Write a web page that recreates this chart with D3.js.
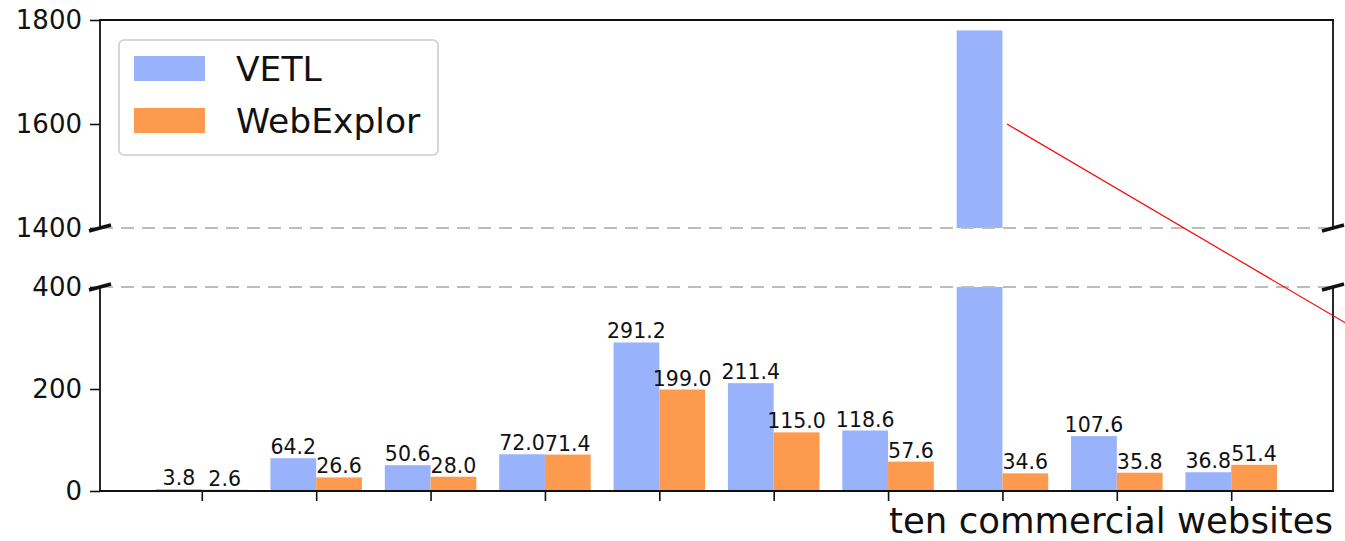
<!DOCTYPE html>
<html>
<head>
<meta charset="utf-8">
<script src="https://cdn.jsdelivr.net/npm/d3@7"></script>
<style>
  html, body { margin: 0; padding: 0; background: #fff; }
  svg { display: block; font-family: "DejaVu Sans", sans-serif; }
</style>
</head>
<body>
<svg id="chart" width="1345" height="541"></svg>
<script>
// Ten commercial websites, two tools compared
const categories = ["1", "2", "3", "4", "5", "6", "7", "8", "9", "10"];
const seriesNames = ["VETL", "WebExplor"];
const vetl      = [3.8, 64.2, 50.6, 72.0, 291.2, 211.4, 118.6, 1780, 107.6, 36.8];
const webExplor = [2.6, 26.6, 28.0, 71.4, 199.0, 115.0, 57.6, 34.6, 35.8, 51.4];
const topTicks = [1400, 1600, 1800];
const bottomTicks = [0, 200, 400];
const xLabel = "ten commercial websites";

const colors = ["#98b2fb", "#fd9a4d"];
const svg = d3.select("#chart");

const left = 100, right = 1333;
const barW = 0.4;
const x = d3.scaleLinear().domain([-0.89, categories.length - 1 + 0.89]).range([left, right]);
const yTop = d3.scaleLinear().domain([1400, 1800]).range([228, 20]);
const yBot = d3.scaleLinear().domain([0, 400]).range([491, 287]);

const series = [vetl, webExplor];

// clip paths for the two panels
const defs = svg.append("defs");
defs.append("clipPath").attr("id", "clipTop").append("rect")
  .attr("x", left).attr("y", yTop(1800)).attr("width", right - left).attr("height", yTop(1400) - yTop(1800));
defs.append("clipPath").attr("id", "clipBot").append("rect")
  .attr("x", left).attr("y", yBot(400)).attr("width", right - left).attr("height", yBot(0) - yBot(400));

function drawBars(g, y, lo, hi) {
  series.forEach((vals, s) => {
    g.selectAll(null).data(vals).enter().append("rect")
      .attr("x", (d, i) => x(i - barW + s * barW))
      .attr("width", x(barW) - x(0))
      .attr("y", d => y(Math.min(d, hi)))
      .attr("height", d => d > lo ? y(lo) - y(Math.min(d, hi)) : 0)
      .attr("fill", colors[s]);
  });
}

const gTop = svg.append("g").attr("clip-path", "url(#clipTop)");
drawBars(gTop, yTop, 1400, 1800);
const gBot = svg.append("g").attr("clip-path", "url(#clipBot)");
drawBars(gBot, yBot, 0, 400);

// value labels on the bars that fit in the lower panel
series.forEach((vals, s) => {
  svg.append("g").selectAll("text").data(vals.map((v, i) => ({v, i})).filter(d => d.v <= 400))
    .enter().append("text")
    .attr("x", d => x(d.i - barW / 2 + s * barW))
    .attr("y", d => yBot(d.v) - 4)
    .attr("text-anchor", "middle")
    .attr("font-size", 20.5)
    .attr("fill", "#111")
    .text(d => d.v.toFixed(1));
});

// dashed break guides
[yTop(1400), yBot(400)].forEach(yy => {
  svg.append("line")
    .attr("x1", left).attr("x2", right).attr("y1", yy).attr("y2", yy)
    .attr("stroke", "#bdbdbd").attr("stroke-width", 2.2)
    .attr("stroke-dasharray", "13,8");
});

// axes
const fmt = d3.format("d");
const axTop = svg.append("g").attr("transform", `translate(${left},0)`)
  .call(d3.axisLeft(yTop).tickValues(topTicks).tickFormat(fmt).tickSize(10).tickPadding(8));
const axBot = svg.append("g").attr("transform", `translate(${left},0)`)
  .call(d3.axisLeft(yBot).tickValues(bottomTicks).tickFormat(fmt).tickSize(10).tickPadding(8));
const axX = svg.append("g").attr("transform", `translate(0,${yBot(0)})`)
  .call(d3.axisBottom(x).tickValues(d3.range(categories.length)).tickFormat("").tickSize(10));

[axTop, axBot, axX].forEach(a => {
  a.select(".domain").remove();
  a.selectAll(".tick line").attr("stroke", "#111").attr("stroke-width", 1.6);
  a.selectAll(".tick text").attr("font-size", 26).attr("fill", "#111")
    .attr("font-family", "DejaVu Sans, sans-serif");
});

// spines
const spine = (x1, y1, x2, y2) => svg.append("line")
  .attr("x1", x1).attr("y1", y1).attr("x2", x2).attr("y2", y2)
  .attr("stroke", "#111").attr("stroke-width", 1.8).attr("stroke-linecap", "square");
spine(left, yTop(1800), right, yTop(1800));
spine(left, yTop(1800), left, yTop(1400));
spine(right, yTop(1800), right, yTop(1400));
spine(left, yBot(400), left, yBot(0));
spine(right, yBot(400), right, yBot(0));
spine(left, yBot(0), right, yBot(0));

// break marks
[left, right].forEach(xx => {
  [yTop(1400), yBot(400)].forEach(yy => {
    svg.append("line")
      .attr("x1", xx - 11).attr("y1", yy + 3)
      .attr("x2", xx + 11).attr("y2", yy - 3)
      .attr("stroke", "#111").attr("stroke-width", 3.4);
  });
});

// annotation line from the tallest bar
svg.append("line")
  .attr("x1", x(7.04)).attr("y1", yTop(1600))
  .attr("x2", x(11)).attr("y2", yTop(1088))
  .attr("stroke", "#ff0000").attr("stroke-width", 1.2);

// x axis title
svg.append("text")
  .attr("x", right).attr("y", 533)
  .attr("text-anchor", "end")
  .attr("font-size", 35.5)
  .attr("fill", "#111")
  .text(xLabel);

// legend
const lg = svg.append("g");
lg.append("rect")
  .attr("x", 119).attr("y", 40).attr("width", 319).attr("height", 115)
  .attr("rx", 5).attr("fill", "#fff").attr("fill-opacity", 0.8)
  .attr("stroke", "#cccccc").attr("stroke-width", 1.6);
seriesNames.forEach((name, s) => {
  lg.append("rect")
    .attr("x", 134).attr("y", 56 + s * 52).attr("width", 71).attr("height", 25)
    .attr("fill", colors[s]);
  lg.append("text")
    .attr("x", 236).attr("y", 81 + s * 52)
    .attr("font-size", 34.5).attr("fill", "#111")
    .text(name);
});
</script>
</body>
</html>
